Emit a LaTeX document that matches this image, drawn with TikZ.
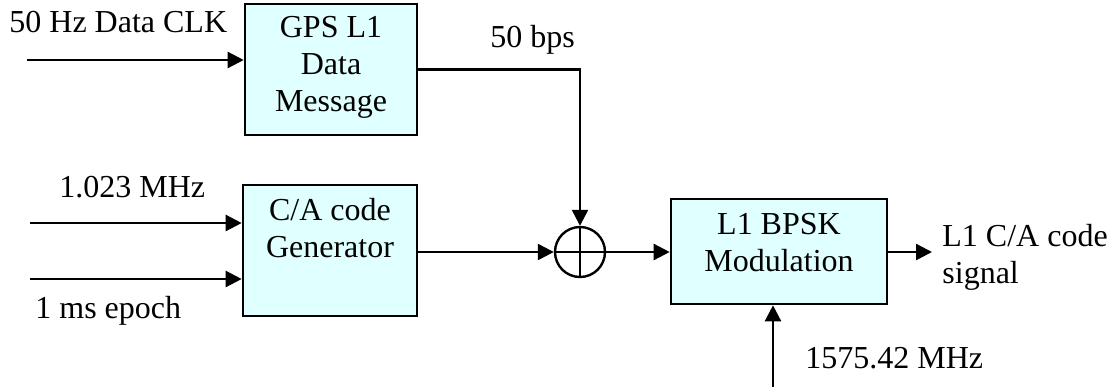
\documentclass[tikz,border=0pt]{standalone}
\usepackage{fontspec}
\setmainfont{Liberation Serif}
\usepackage{tikz}
\usetikzlibrary{shapes,arrows.meta,positioning,calc}
\definecolor{gpsCyan}{RGB}{224,255,255}

\begin{document}
\begin{tikzpicture}[
    x=0.5pt, y=-0.5pt,
    font=\fontsize{16}{18.5}\selectfont,
    block/.style={rectangle, draw, line width=1.3pt, fill=gpsCyan},
    blocktext/.style={align=center, inner sep=0pt},
    lbl/.style={inner sep=0pt, anchor=base west},
    arrow/.style={-{Triangle[length=8pt, width=8pt]}, line width=1.2pt},
    xorsym/.style={circle, draw, line width=1.2pt, minimum size=25pt, inner sep=0pt}
]
    \useasboundingbox (0,0) rectangle (1119,387);

    % blocks
    \node[block, minimum width=86pt, minimum height=65.5pt] (msg) at (331,69.5) {};
    \node[block, minimum width=87pt, minimum height=65.5pt] (gen) at (330,250.5) {};
    \node[block, minimum width=108pt, minimum height=52.5pt] (mod) at (779,251.5) {};
    \node[blocktext, below=6.5pt of msg.north] (msgtxt) {GPS L1\\Data\\Message};
    \node[blocktext, below=7pt of gen.north] (gentxt) {C/A code\\Generator};
    \node[blocktext, below=7.5pt of mod.north] (modtxt) {L1 BPSK\\Modulation};

    % modulo-2 adder
    \node[xorsym] (xor) at (580,252) {};
    \draw[line width=1.2pt] (xor.north) -- (xor.south) (xor.west) -- (xor.east);

    % free ends
    \coordinate (clkin) at (27,60);
    \coordinate (chipin) at (30,223);
    \coordinate (epochin) at (30,279);
    \coordinate (out) at (932,252);
    \coordinate (rfin) at (773,387);

    % labels
    \node[lbl] (clklbl) at (9,32) {50 Hz Data CLK};
    \node[lbl] (chiplbl) at (59,197) {1.023 MHz};
    \node[lbl] (epochlbl) at (35,318) {1 ms epoch};
    \node[lbl] (bpslbl) at (490,47) {50 bps};
    \node[inner sep=0pt, align=left, anchor=north west] (outlbl) at (942,224) {L1 C/A code\\signal};
    \node[lbl] (rflbl) at (805,368) {1575.42 MHz};

    % connections
    \draw[arrow] (clkin) -- (clkin -| msg.west);
    \draw[arrow] (chipin) -- (chipin -| gen.west);
    \draw[arrow] (epochin) -- (epochin -| gen.west);
    \draw[arrow] (msg.east) -| (xor.north);
    \draw[arrow] (gen.east |- xor.west) -- (xor.west);
    \draw[arrow] (xor.east) -- (xor.east -| mod.west);
    \draw[arrow] (out -| mod.east) -- (out);
    \draw[arrow] (rfin) -- (rfin |- mod.south);
\end{tikzpicture}
\end{document}
